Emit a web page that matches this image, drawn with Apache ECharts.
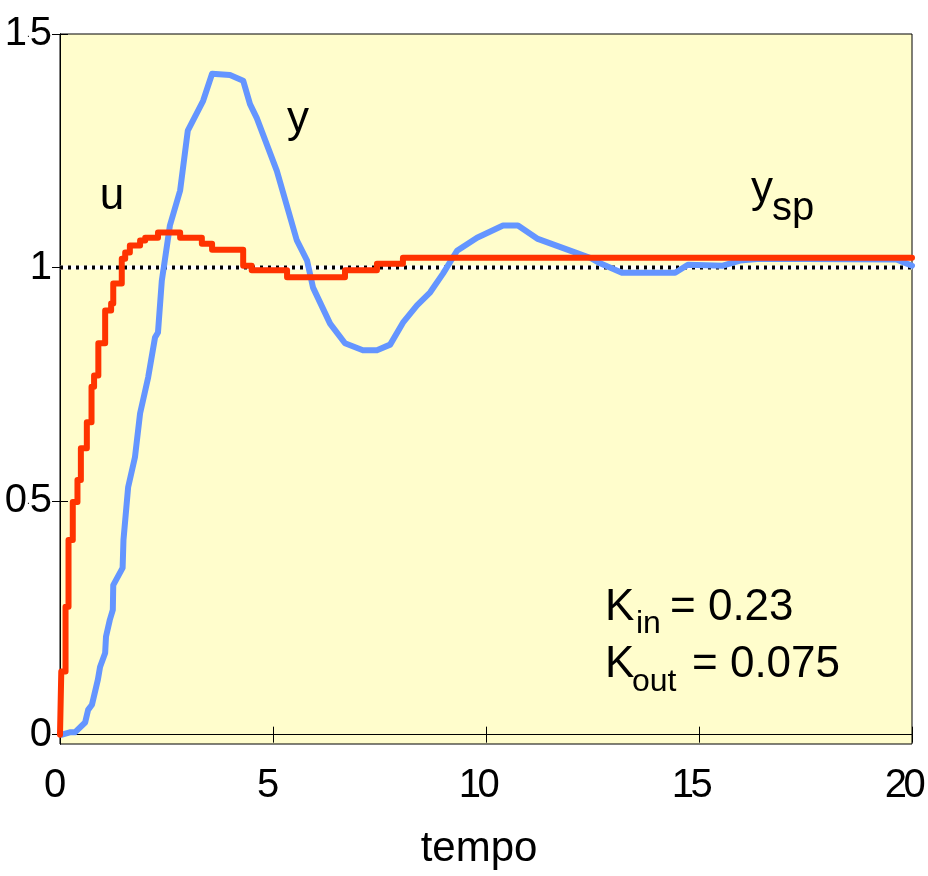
<!DOCTYPE html>
<html>
<head>
<meta charset="utf-8">
<title>u, y, ysp - tempo</title>
<script src="https://cdn.jsdelivr.net/npm/echarts@6/dist/echarts.min.js"></script>
<style>
    html, body { margin: 0; padding: 0; background: #fff; }
    #chart01 { width: 928px; height: 876px; }
</style>
</head>
<body>
<div id="chart01"></div>
<script>
// sinal de controle u (amostrado, segura ate a proxima amostra)
var tempoU   = [0, 0.03, 0.13, 0.2, 0.3, 0.41, 0.49, 0.63, 0.74, 0.8, 0.9, 1.06, 1.2, 1.25, 1.45, 1.53, 1.64, 1.88, 2.0, 2.3, 2.82, 3.33, 3.57, 4.3, 4.5, 5.33, 6.69, 7.44, 8.05, 20];
var valoresU = [0, 0.135, 0.274, 0.417, 0.498, 0.545, 0.613, 0.669, 0.745, 0.769, 0.838, 0.908, 0.923, 0.966, 1.019, 1.032, 1.047, 1.058, 1.064, 1.075, 1.064, 1.051, 1.038, 1.004, 0.994, 0.979, 0.994, 1.008, 1.021, 1.021];

// saida y
var tempoY   = [0.05, 0.23, 0.35, 0.59, 0.66, 0.75, 0.89, 0.94, 1.06, 1.08, 1.17, 1.24, 1.25, 1.47, 1.49, 1.6, 1.76, 1.88, 2.07, 2.23, 2.3, 2.39, 2.46, 2.58, 2.82, 3.0, 3.36, 3.57, 3.99, 4.3, 4.46, 4.62, 5.09, 5.56, 5.8, 5.94, 6.34, 6.69, 7.11, 7.44, 7.75, 8.05, 8.38, 8.69, 8.99, 9.32, 9.79, 10.4, 10.75, 11.2, 12.04, 12.44, 12.68, 13.19, 14.44, 14.74, 15.56, 15.96, 16.43, 19.65, 20];
var valoresY = [0, 0.005, 0.005, 0.026, 0.053, 0.064, 0.118, 0.145, 0.175, 0.21, 0.246, 0.267, 0.32, 0.357, 0.417, 0.53, 0.594, 0.688, 0.765, 0.85, 0.861, 0.972, 1.015, 1.09, 1.165, 1.293, 1.357, 1.415, 1.412, 1.4, 1.35, 1.32, 1.207, 1.058, 1.015, 0.957, 0.88, 0.838, 0.823, 0.823, 0.835, 0.882, 0.919, 0.947, 0.987, 1.036, 1.064, 1.09, 1.09, 1.062, 1.034, 1.021, 1.009, 0.989, 0.989, 1.006, 1.004, 1.015, 1.019, 1.017, 1.004];

// referencia ysp
var tempoSp   = [0, 20];
var valoresSp = [1, 1];

var ticksX = [0, 5, 10, 15, 20];
var ticksY = [0, 0.5, 1, 1.5];

function pares(xs, ys) {
    var out = [];
    for (var i = 0; i < xs.length; i++) out.push([xs[i], ys[i]]);
    return out;
}

var fonte = "'Liberation Sans', Arial, sans-serif";

// rotulos estreitos como no original (digitos encostados)
function rotuloX(v) {
    var s = String(v);
    if (s.length < 2) return '{d|' + s + '}';
    return '{c|' + s.charAt(0) + '}{d|' + s.substring(1) + '}';
}
function rotuloY(v) {
    var s = String(v);
    var k = s.indexOf('.');
    if (k < 0) return '{d|' + s + '}';
    return '{c|' + s.substring(0, k) + '}{p|.}{d|' + s.substring(k + 1) + '}';
}
var richRot = {
    c: { fontSize: 40, fontFamily: fonte, color: '#000', width: 15 },
    d: { fontSize: 40, fontFamily: fonte, color: '#000' },
    p: { fontSize: 10, fontFamily: fonte, color: '#000' }
};

var cha01 = echarts.init(document.getElementById('chart01'));
var opt01 = {
    animation: false,
    textStyle: { fontFamily: fonte },
    grid: {
        left: 60, right: 16, top: 34, bottom: 132,
        outerBoundsMode: 'none',
        containLabel: false,
        show: true,
        backgroundColor: '#FFFDCC',
        borderColor: '#000',
        borderWidth: 1
    },
    xAxis: [
        {
            type: 'value', min: 0, max: 20, interval: 5,
            name: 'tempo', nameLocation: 'middle', nameGap: 84,
            nameTextStyle: { fontSize: 42, color: '#000', fontFamily: fonte, padding: [0, 14, 0, 0] },
            axisLine: { lineStyle: { color: '#000', width: 1 } },
            axisTick: { inside: true, length: 8, lineStyle: { color: '#000' }, customValues: ticksX },
            axisLabel: {
                fontSize: 40, color: '#000', margin: 22, fontFamily: fonte,
                customValues: ticksX, formatter: rotuloX, rich: richRot,
                padding: [0, 10, 0, 0]
            },
            splitLine: { show: false }
        },
        {
            type: 'value', min: 0, max: 20, interval: 5, position: 'top',
            axisLine: { lineStyle: { color: '#000', width: 1 } },
            axisTick: { inside: true, length: 8, lineStyle: { color: '#000' }, customValues: ticksX },
            axisLabel: { show: false },
            splitLine: { show: false }
        }
    ],
    yAxis: [
        {
            type: 'value', min: -0.02, max: 1.5,
            axisLine: { show: true, lineStyle: { color: '#000', width: 1 } },
            axisTick: { show: true, inside: true, length: 8, lineStyle: { color: '#000' }, customValues: ticksY },
            axisLabel: {
                fontSize: 40, color: '#000', margin: 8, fontFamily: fonte,
                customValues: ticksY, formatter: rotuloY, rich: richRot
            },
            splitLine: { show: false }
        },
        {
            type: 'value', min: -0.02, max: 1.5, position: 'right',
            axisLine: { show: true, lineStyle: { color: '#000', width: 1 } },
            axisTick: { show: true, inside: true, length: 8, lineStyle: { color: '#000' }, customValues: ticksY },
            axisLabel: { show: false },
            splitLine: { show: false }
        }
    ],
    series: [
        // ysp: fundo branco + pontilhado preto
        {
            name: 'ysp-fundo', type: 'line', data: pares(tempoSp, valoresSp),
            showSymbol: false, silent: true, z: 1,
            lineStyle: { color: '#fff', width: 4 }
        },
        {
            name: 'ysp', type: 'line', data: pares(tempoSp, valoresSp),
            showSymbol: false, silent: true, z: 2,
            lineStyle: { color: '#000', width: 4, type: [3, 5] }
        },
        {
            name: 'y', type: 'line', data: pares(tempoY, valoresY),
            showSymbol: false, z: 3,
            lineStyle: { color: '#6495FF', width: 6, join: 'round', cap: 'round' }
        },
        {
            name: 'u', type: 'line', step: 'end', data: pares(tempoU, valoresU),
            showSymbol: false, z: 4,
            lineStyle: { color: '#FF3300', width: 6, join: 'round', cap: 'round' }
        }
    ],
    graphic: [
        { type: 'text', x: 112, y: 197, z: 10, style: { text: 'u', font: '44px ' + fonte, fill: '#000', textAlign: 'center', textVerticalAlign: 'middle' } },
        { type: 'text', x: 287, y: 120, z: 10, style: { text: 'y', font: '44px ' + fonte, fill: '#000', textAlign: 'left', textVerticalAlign: 'middle' } },
        { type: 'text', x: 751, y: 190, z: 10, style: { text: 'y', font: '44px ' + fonte, fill: '#000', textAlign: 'left', textVerticalAlign: 'middle' } },
        { type: 'text', x: 772, y: 209, z: 10, style: { text: 'sp', font: '40px ' + fonte, fill: '#000', textAlign: 'left', textVerticalAlign: 'middle' } },
        { type: 'text', x: 605, y: 608, z: 10, style: { text: 'K', font: '44px ' + fonte, fill: '#000', textAlign: 'left', textVerticalAlign: 'middle' } },
        { type: 'text', x: 636, y: 624, z: 10, style: { text: 'in', font: '32px ' + fonte, fill: '#000', textAlign: 'left', textVerticalAlign: 'middle' } },
        { type: 'text', x: 670, y: 608, z: 10, style: { text: '= 0.23', font: '44px ' + fonte, fill: '#000', textAlign: 'left', textVerticalAlign: 'middle' } },
        { type: 'text', x: 605, y: 665, z: 10, style: { text: 'K', font: '44px ' + fonte, fill: '#000', textAlign: 'left', textVerticalAlign: 'middle' } },
        { type: 'text', x: 632, y: 682, z: 10, style: { text: 'out', font: '32px ' + fonte, fill: '#000', textAlign: 'left', textVerticalAlign: 'middle' } },
        { type: 'text', x: 692, y: 665, z: 10, style: { text: '= 0.075', font: '44px ' + fonte, fill: '#000', textAlign: 'left', textVerticalAlign: 'middle' } }
    ]
};
cha01.setOption(opt01);
</script>
</body>
</html>
